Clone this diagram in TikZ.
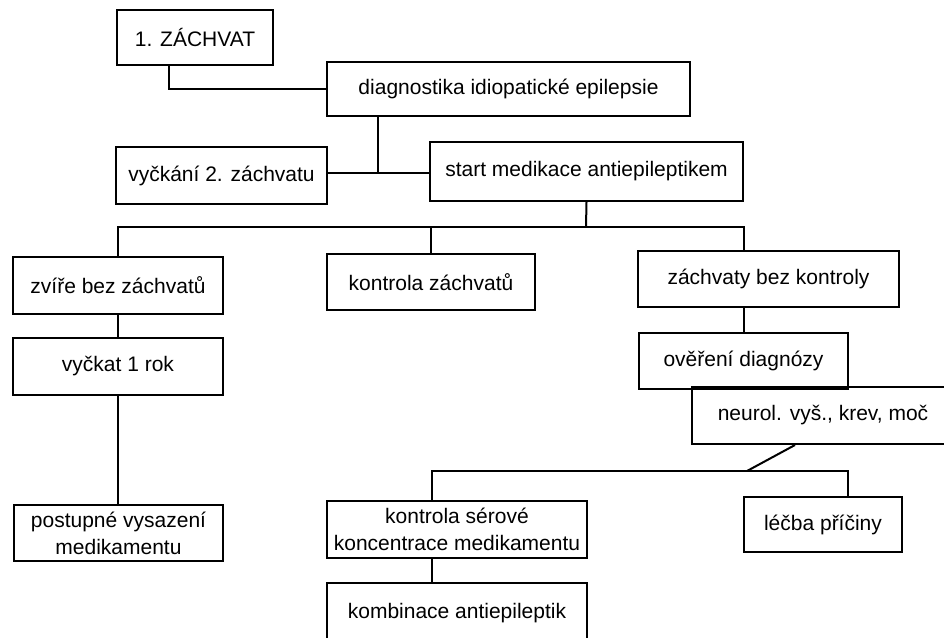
\documentclass[tikz,border=0pt]{standalone}
\usepackage{fontspec}
\setmainfont{Liberation Sans}
\usepackage{tikz}
\usetikzlibrary{positioning,calc}

\begin{document}
\begin{tikzpicture}[x=1pt, y=-1pt, line width=2pt,
    box/.style={draw, rectangle, inner sep=0pt, align=center, font=\fontsize{21}{27}\selectfont}]
    \useasboundingbox (0,0) rectangle (944,637);
    \fill [white] (0,0) rectangle (944,637);
    \clip (0,0) rectangle (944,637);

    \node [box, minimum width=156pt, minimum height=55pt] (zachvat) at (195,37.5) {1. ZÁCHVAT};
    \node [box, minimum width=363pt, minimum height=54pt] (diag) at (508.5,89) {diagnostika idiopatické epilepsie};
    \node [box, minimum width=211pt, minimum height=57pt] (vyckani) at (221.5,175.5) {vyčkání 2. záchvatu};
    \node [box, minimum width=313pt, minimum height=59pt] (start) at (586.5,171.5) {start medikace antiepileptikem};

    \node [box, minimum width=210pt, minimum height=57pt] (zvire) at (118,285.5) {zvíře bez záchvatů};
    \node [box, minimum width=208pt, minimum height=56pt] (kontrola) at (431,282) {kontrola záchvatů};
    \node [box, minimum width=261pt, minimum height=56pt] (zbk) at (768.5,279) {záchvaty bez kontroly};
    \node [box, minimum width=210pt, minimum height=57pt] (vyckat) at (118,366.5) {vyčkat 1 rok};
    \node [box, minimum width=209pt, minimum height=56pt] (overeni) at (743.5,361) {ověření diagnózy};
    \node [box, minimum width=262pt, minimum height=57pt] (neurol) at (823,415.5) {neurol. vyš., krev, moč};

    \node [box, minimum width=209pt, minimum height=56pt] (postupne) at (118.5,533) {postupné vysazení\\medikamentu};
    \node [box, minimum width=260pt, minimum height=57pt] (serove) at (457,529.5) {kontrola sérové\\koncentrace medikamentu};
    \node [box, minimum width=158pt, minimum height=55pt] (lecba) at (823,524.5) {léčba příčiny};
    \node [box, minimum width=260pt, minimum height=60pt] (kombinace) at (457,613) {kombinace antiepileptik};

    \coordinate (j1) at (378,173);
    \coordinate (bus1) at (586,227);
    \coordinate (bus2) at (747,471);

    \draw ([xshift=-26pt]zachvat.south) |- (diag.west);
    \draw ([xshift=-130.5pt]diag.south) -- (j1);
    \draw (vyckani.east |- j1) -- (start.west |- j1);
    \draw (start.south) -- (bus1);
    \draw (zvire.north) |- (bus1) -| ([xshift=-24.5pt]zbk.north);
    \draw (kontrola.north) -- (kontrola.north |- bus1);
    \draw (zvire.south) -- (vyckat.north);
    \draw (vyckat.south) -- (vyckat.south |- postupne.north);
    \draw (overeni.north) -- (overeni.north |- zbk.south);
    \draw ([xshift=-28pt]neurol.south) -- (bus2);
    \draw ([xshift=-25pt]serove.north) |- (bus2) -| ([xshift=25pt]lecba.north);
    \draw ([xshift=-25pt]serove.south) -- ([xshift=-25pt]kombinace.north);
\end{tikzpicture}
\end{document}
